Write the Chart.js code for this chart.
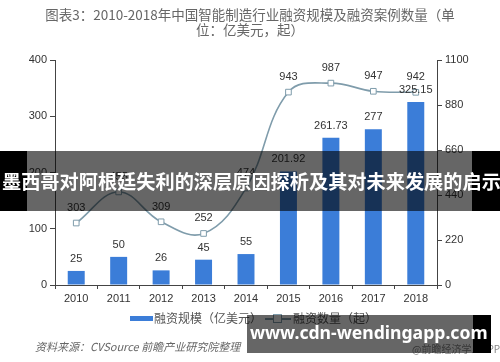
<!DOCTYPE html>
<html>
<head>
<meta charset="utf-8">
<script src="https://cdn.jsdelivr.net/npm/chart.js@4.4.0/dist/chart.umd.min.js"></script>
<style>
  body { margin: 0; background: #fff; }
  #wrap { position: relative; width: 500px; height: 362px; overflow: hidden; font-family: "Noto Sans CJK SC", "Liberation Sans", sans-serif; }
  #title { position: absolute; left: 0; top: 7px; width: 500px; text-align: center; font-size: 13.5px; line-height: 15px; color: #666; }
  #legend { position: absolute; top: 310px; left: 0; width: 500px; height: 16px; font-size: 12px; color: #555; }
  .lg { position: absolute; top: 0; line-height: 16px; white-space: nowrap; }
  #src { position: absolute; left: 35px; top: 338px; font-size: 11px; font-style: italic; color: #666; white-space: nowrap; }
  #wm { position: absolute; left: 412px; top: 341px; font-size: 10px; color: #888; white-space: nowrap; }
  .band { position: absolute; background: rgba(0,0,0,0.6); }
  .blk { position: absolute; background: #000; }
  .btxt { position: absolute; color: #fff; font-weight: bold; white-space: nowrap; }
</style>
</head>
<body>
<div id="wrap">
  <canvas id="c" width="500" height="362"></canvas>
  <div id="title">图表3：2010-2018年中国智能制造行业融资规模及融资案例数量（单<br>位：亿美元，起）</div>
  <div id="legend">
    <div class="lg" style="left:130px;top:6px;width:23px;height:5px;background:#3b7dd8;"></div>
    <div class="lg" style="left:154px;">融资规模（亿美元）</div>
    <div class="lg" style="left:265px;top:8px;width:26px;height:1.5px;background:#7f9cab;"></div>
    <div class="lg" style="left:273px;top:4px;width:7px;height:7px;border:1px solid #7f9cab;background:#fff;"></div>
    <div class="lg" style="left:293px;">融资数量（起）</div>
  </div>
  <div id="src">资料来源：CVSource 前瞻产业研究院整理</div>
  <div id="wm">@前瞻经济学人APP</div>

  <div class="blk" style="left:0;top:151px;width:27px;height:60px;"></div>
  <div class="band" style="left:27px;top:151px;width:445px;height:60px;"></div>
  <div class="blk" style="left:472px;top:151px;width:28px;height:60px;"></div>
  <div class="btxt" style="left:2px;top:169px;font-size:19.2px;line-height:24px;">墨西哥对阿根廷失利的深层原因探析及其对未来发展的启示</div>

  <div class="band" style="left:247px;top:315px;width:226px;height:38px;"></div>
  <div class="blk" style="left:473px;top:315px;width:18px;height:38px;"></div>
  <div class="btxt" style="left:250px;top:320px;font-size:17.6px;line-height:24px;font-family:'Noto Sans','DejaVu Sans',sans-serif;">www.cdn-wendingapp.com</div>
</div>
<script>
const years = ['2010', '2011', '2012', '2013', '2014', '2015', '2016', '2017', '2018'];
const amount = [25, 50, 26, 45, 55, 201.92, 261.73, 277, 325.15];
const deals = [303, 455, 309, 252, 474, 943, 987, 947, 942];
const leftTicks = [0, 100, 200, 300, 400];
const rightTicks = [0, 220, 440, 660, 880, 1100];

// value labels above bars and points
const valueLabels = {
  id: 'valueLabels',
  afterDatasetsDraw(chart) {
    const ctx = chart.ctx;
    ctx.save();
    ctx.textAlign = 'center';
    ctx.textBaseline = 'middle';
    ctx.fillStyle = '#333';
    ctx.font = '11px "Liberation Sans", Arial, sans-serif';
    chart.data.datasets.forEach((ds, i) => {
      const meta = chart.getDatasetMeta(i);
      const off = ds.type === 'line' ? 15 : 12;
      meta.data.forEach((el, j) => {
        ctx.fillText(String(ds.data[j]), el.x, el.y - off);
      });
    });
    ctx.restore();
  }
};

const axisColor = '#444';
const tickFont = { family: '"Liberation Sans", Arial, sans-serif', size: 11 };

new Chart(document.getElementById('c'), {
  data: {
    labels: years,
    datasets: [
      {
        type: 'line',
        label: '融资数量（起）',
        data: deals,
        yAxisID: 'y1',
        borderColor: '#7f9cab',
        borderWidth: 1.6,
        tension: 0.4,
        pointStyle: 'rect',
        pointRadius: 4,
        pointBackgroundColor: '#fff',
        pointBorderColor: '#7f9cab',
        pointBorderWidth: 1,
        order: 0
      },
      {
        type: 'bar',
        label: '融资规模（亿美元）',
        data: amount,
        yAxisID: 'y',
        backgroundColor: '#3b7dd8',
        categoryPercentage: 1,
        barPercentage: 0.4,
        order: 1
      }
    ]
  },
  options: {
    responsive: false,
    animation: false,
    layout: { padding: { top: 60 } },
    plugins: { legend: { display: false }, tooltip: { enabled: false } },
    scales: {
      x: {
        offset: true,
        grid: { offset: true, drawOnChartArea: false, drawTicks: true, tickLength: 4, color: axisColor },
        border: { color: axisColor },
        ticks: { color: '#333', font: tickFont, padding: 3, maxRotation: 0 },
        afterFit: s => { s.height = 77; }
      },
      y: {
        position: 'left',
        min: 0, max: 400,
        afterBuildTicks: s => { s.ticks = leftTicks.map(v => ({ value: v })); },
        grid: { drawOnChartArea: false, drawTicks: true, tickLength: 5, color: axisColor },
        border: { color: axisColor },
        ticks: { color: '#333', font: tickFont, padding: 3, callback: v => String(v) },
        afterFit: s => { s.width = 55; }
      },
      y1: {
        position: 'right',
        min: 0, max: 1100,
        afterBuildTicks: s => { s.ticks = rightTicks.map(v => ({ value: v })); },
        grid: { drawOnChartArea: false, drawTicks: true, tickLength: 5, color: axisColor },
        border: { color: axisColor },
        ticks: { color: '#333', font: tickFont, padding: 3, callback: v => String(v) },
        afterFit: s => { s.width = 63; }
      }
    }
  },
  plugins: [valueLabels]
});
</script>
</body>
</html>
